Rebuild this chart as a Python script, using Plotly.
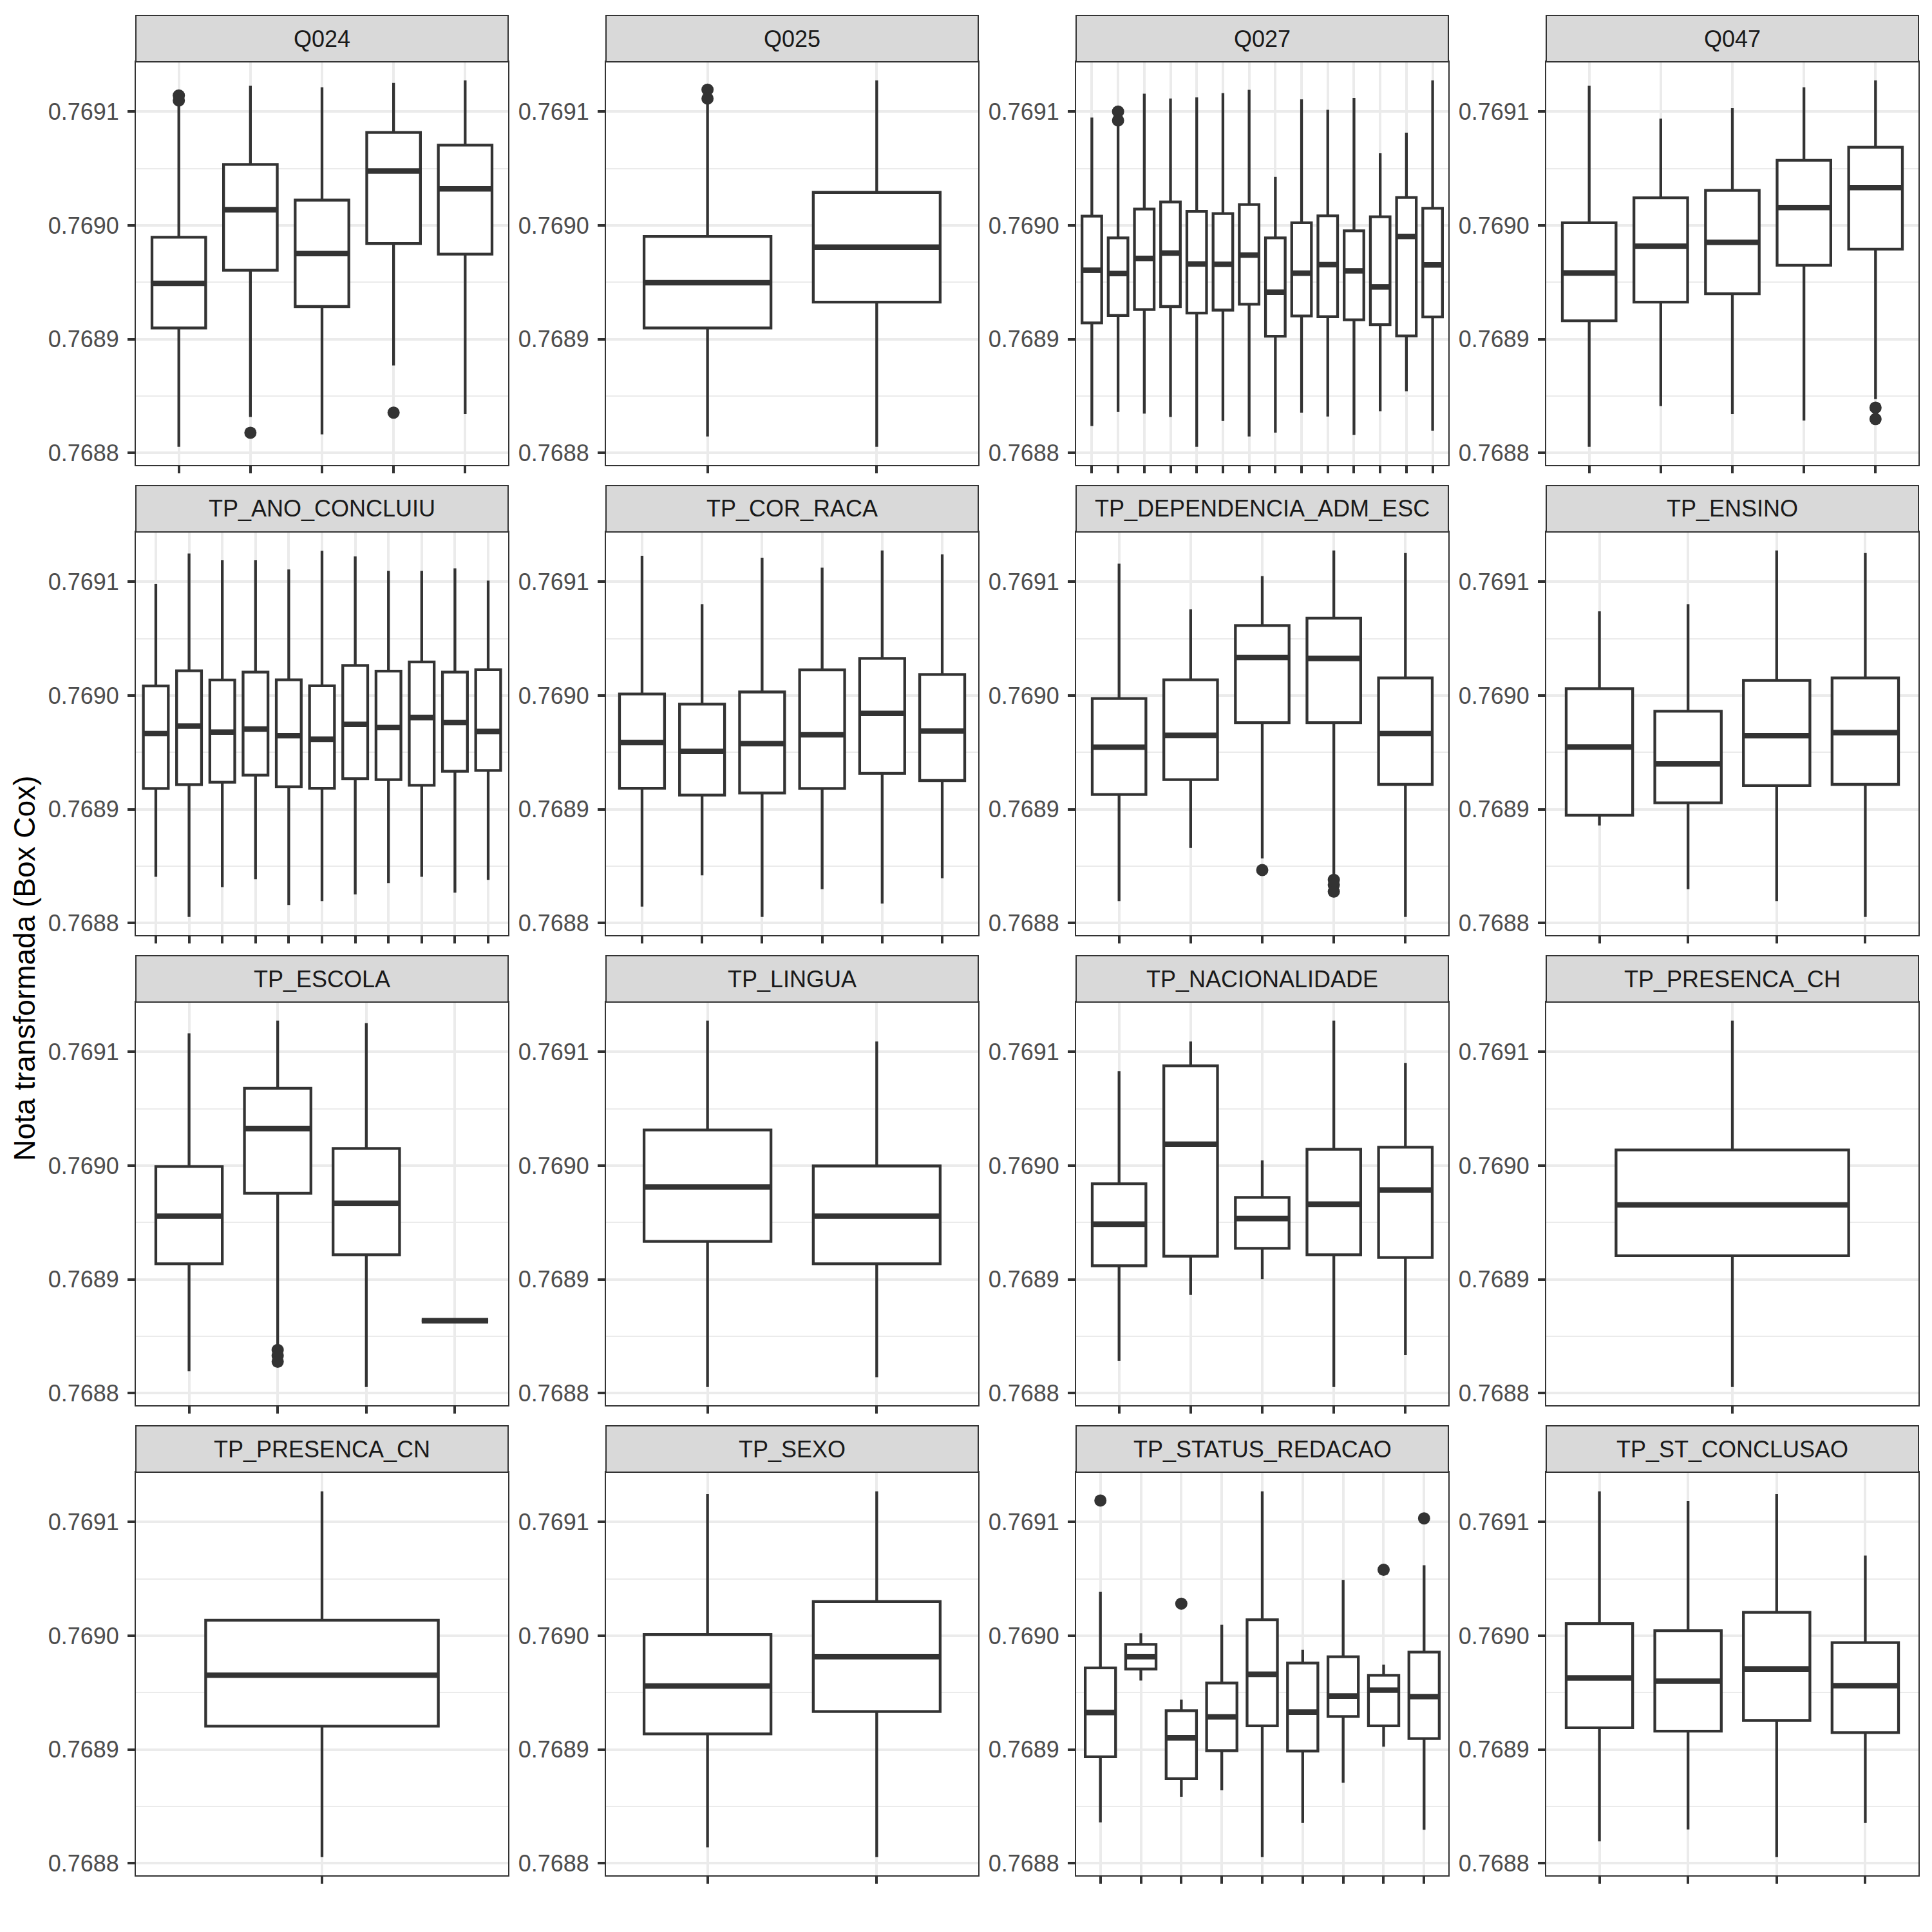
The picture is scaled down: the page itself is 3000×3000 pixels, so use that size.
import plotly.graph_objects as go

# ---------------- data (Box-Cox transformed scores) ----------------
Q024_LOW = [0.7688055, 0.7688316, 0.7688164, 0.7688770, 0.7688342]
Q024_Q1 = [0.7689099, 0.7689606, 0.7689287, 0.7689841, 0.7689747]
Q024_MED = [0.7689491, 0.7690138, 0.7689752, 0.7690478, 0.7690321]
Q024_Q3 = [0.7689896, 0.7690535, 0.7690222, 0.7690817, 0.7690705]
Q024_UP = [0.7691057, 0.7691227, 0.7691214, 0.7691251, 0.7691274]
Q024_OUT_X = [0, 0, 1, 3]
Q024_OUT_Y = [0.7691141, 0.7691097, 0.7688178, 0.7688355]

Q025_LOW = [0.7688146, 0.7688055]
Q025_Q1 = [0.7689099, 0.7689326]
Q025_MED = [0.7689496, 0.7689809]
Q025_Q3 = [0.7689903, 0.7690290]
Q025_UP = [0.7691063, 0.7691274]
Q025_OUT_X = [0, 0]
Q025_OUT_Y = [0.7691193, 0.7691115]

Q027_LOW = [0.7688238, 0.7688360, 0.7688347, 0.7688316, 0.7688055, 0.7688282, 0.7688146,
            0.7688180, 0.7688355, 0.7688321, 0.7688159, 0.7688368, 0.7688543, 0.7688196]
Q027_Q1 = [0.7689144, 0.7689209, 0.7689261, 0.7689287, 0.7689230, 0.7689256, 0.7689308,
           0.7689026, 0.7689204, 0.7689198, 0.7689170, 0.7689128, 0.7689029, 0.7689196]
Q027_MED = [0.7689606, 0.7689577, 0.7689710, 0.7689757, 0.7689661, 0.7689658, 0.7689739,
            0.7689413, 0.7689580, 0.7689655, 0.7689601, 0.7689460, 0.7689903, 0.7689653]
Q027_Q3 = [0.7690081, 0.7689890, 0.7690144, 0.7690206, 0.7690123, 0.7690104, 0.7690183,
           0.7689890, 0.7690023, 0.7690084, 0.7689953, 0.7690076, 0.7690245, 0.7690151]
Q027_UP = [0.7690948, 0.7690888, 0.7691157, 0.7691115, 0.7691125, 0.7691162, 0.7691191,
           0.7690426, 0.7691107, 0.7691016, 0.7691120, 0.7690634, 0.7690815, 0.7691274]
Q027_OUT_X = [1, 1]
Q027_OUT_Y = [0.7691000, 0.7690922]

Q047_LOW = [0.7688055, 0.7688413, 0.7688342, 0.7688285, 0.7688473]
Q047_Q1 = [0.7689162, 0.7689326, 0.7689399, 0.7689650, 0.7689791]
Q047_MED = [0.7689582, 0.7689817, 0.7689851, 0.7690157, 0.7690332]
Q047_Q3 = [0.7690023, 0.7690243, 0.7690308, 0.7690572, 0.7690687]
Q047_UP = [0.7691227, 0.7690937, 0.7691029, 0.7691214, 0.7691274]
Q047_OUT_X = [4, 4]
Q047_OUT_Y = [0.7688399, 0.7688298]

ANO_LOW = [0.7688407, 0.7688055, 0.7688316, 0.7688386, 0.7688159, 0.7688193, 0.7688253,
           0.7688352, 0.7688407, 0.7688269, 0.7688381]
ANO_Q1 = [0.7689183, 0.7689217, 0.7689238, 0.7689300, 0.7689198, 0.7689185, 0.7689269,
          0.7689261, 0.7689211, 0.7689334, 0.7689342]
ANO_MED = [0.7689666, 0.7689731, 0.7689679, 0.7689705, 0.7689648, 0.7689616, 0.7689747,
           0.7689718, 0.7689807, 0.7689762, 0.7689684]
ANO_Q3 = [0.7690084, 0.7690217, 0.7690136, 0.7690206, 0.7690138, 0.7690086, 0.7690264,
          0.7690214, 0.7690295, 0.7690206, 0.7690227]
ANO_UP = [0.7690979, 0.7691248, 0.7691188, 0.7691188, 0.7691107, 0.7691272, 0.7691222,
          0.7691094, 0.7691094, 0.7691117, 0.7691010]
ANO_OUT_X = []
ANO_OUT_Y = []

COR_LOW = [0.7688146, 0.7688420, 0.7688055, 0.7688298, 0.7688172, 0.7688394]
COR_Q1 = [0.7689185, 0.7689125, 0.7689144, 0.7689183, 0.7689316, 0.7689253]
COR_MED = [0.7689587, 0.7689509, 0.7689577, 0.7689655, 0.7689843, 0.7689687]
COR_Q3 = [0.7690013, 0.7689924, 0.7690031, 0.7690225, 0.7690326, 0.7690185]
COR_UP = [0.7691227, 0.7690802, 0.7691211, 0.7691123, 0.7691274, 0.7691240]
COR_OUT_X = []
COR_OUT_Y = []

DEP_LOW = [0.7688193, 0.7688661, 0.7688569, 0.7688420, 0.7688055]
DEP_Q1 = [0.7689131, 0.7689261, 0.7689762, 0.7689762, 0.7689219]
DEP_MED = [0.7689546, 0.7689650, 0.7690334, 0.7690326, 0.7689666]
DEP_Q3 = [0.7689974, 0.7690138, 0.7690614, 0.7690679, 0.7690154]
DEP_UP = [0.7691159, 0.7690757, 0.7691050, 0.7691274, 0.7691251]
DEP_OUT_X = [2, 3, 3, 3]
DEP_OUT_Y = [0.7688467, 0.7688381, 0.7688337, 0.7688277]

ENS_LOW = [0.7688859, 0.7688298, 0.7688193, 0.7688055]
ENS_Q1 = [0.7688948, 0.7689057, 0.7689209, 0.7689219]
ENS_MED = [0.7689548, 0.7689399, 0.7689648, 0.7689674]
ENS_Q3 = [0.7690060, 0.7689862, 0.7690133, 0.7690154]
ENS_UP = [0.7690739, 0.7690802, 0.7691274, 0.7691251]
ENS_OUT_X = []
ENS_OUT_Y = []

ESC_LOW = [0.7688193, 0.7688420, 0.7688055, 0.7688637]
ESC_Q1 = [0.7689138, 0.7689757, 0.7689217, 0.7688637]
ESC_MED = [0.7689556, 0.7690326, 0.7689668, 0.7688637]
ESC_Q3 = [0.7689992, 0.7690679, 0.7690151, 0.7688637]
ESC_UP = [0.7691162, 0.7691274, 0.7691251, 0.7688637]
ESC_OUT_X = [1, 1, 1]
ESC_OUT_Y = [0.7688381, 0.7688329, 0.7688277]

LIN_LOW = [0.7688055, 0.7688141]
LIN_Q1 = [0.7689334, 0.7689138]
LIN_MED = [0.7689812, 0.7689556]
LIN_Q3 = [0.7690313, 0.7689997]
LIN_UP = [0.7691274, 0.7691091]
LIN_OUT_X = []
LIN_OUT_Y = []

NAC_LOW = [0.7688285, 0.7688864, 0.7689003, 0.7688055, 0.7688337]
NAC_Q1 = [0.7689120, 0.7689204, 0.7689274, 0.7689217, 0.7689193]
NAC_MED = [0.7689486, 0.7690188, 0.7689535, 0.7689661, 0.7689786]
NAC_Q3 = [0.7689841, 0.7690877, 0.7689721, 0.7690144, 0.7690162]
NAC_UP = [0.7690830, 0.7691091, 0.7690047, 0.7691274, 0.7690901]
NAC_OUT_X = []
NAC_OUT_Y = []

PCH_LOW = [0.7688055]
PCH_Q1 = [0.7689209]
PCH_MED = [0.7689655]
PCH_Q3 = [0.7690138]
PCH_UP = [0.7691274]
PCH_OUT_X = []
PCH_OUT_Y = []

PCN_LOW = [0.7688055]
PCN_Q1 = [0.7689206]
PCN_MED = [0.7689653]
PCN_Q3 = [0.7690136]
PCN_UP = [0.7691269]
PCN_OUT_X = []
PCN_OUT_Y = []

SEX_LOW = [0.7688141, 0.7688055]
SEX_Q1 = [0.7689138, 0.7689334]
SEX_MED = [0.7689559, 0.7689817]
SEX_Q3 = [0.7690010, 0.7690300]
SEX_UP = [0.7691245, 0.7691269]
SEX_OUT_X = []
SEX_OUT_Y = []

RED_LOW = [0.7688360, 0.7689606, 0.7688585, 0.7688642, 0.7688055, 0.7688355, 0.7688708,
           0.7689026, 0.7688295]
RED_Q1 = [0.7688937, 0.7689708, 0.7688744, 0.7688990, 0.7689209, 0.7688987, 0.7689290,
          0.7689209, 0.7689097]
RED_MED = [0.7689326, 0.7689817, 0.7689104, 0.7689287, 0.7689661, 0.7689329, 0.7689470,
           0.7689522, 0.7689465]
RED_Q3 = [0.7689718, 0.7689924, 0.7689342, 0.7689585, 0.7690141, 0.7689760, 0.7689815,
          0.7689653, 0.7689856]
RED_UP = [0.7690386, 0.7690021, 0.7689439, 0.7690097, 0.7691269, 0.7689877, 0.7690491,
          0.7689747, 0.7690619]
RED_OUT_X = [0, 2, 7, 8]
RED_OUT_Y = [0.7691188, 0.7690282, 0.7690580, 0.7691031]

STC_LOW = [0.7688193, 0.7688298, 0.7688055, 0.7688355]
STC_Q1 = [0.7689191, 0.7689162, 0.7689256, 0.7689149]
STC_MED = [0.7689629, 0.7689601, 0.7689708, 0.7689561]
STC_Q3 = [0.7690107, 0.7690044, 0.7690206, 0.7689940]
STC_UP = [0.7691269, 0.7691183, 0.7691245, 0.7690705]
STC_OUT_X = []
STC_OUT_Y = []

Y_TICKS = [0.7688, 0.7689, 0.7690, 0.7691]
Y_MINOR = [0.76885, 0.76895, 0.76905]
Y_TITLE = "Nota transformada (Box Cox)"

PANELS = [
    ("Q024", Q024_LOW, Q024_Q1, Q024_MED, Q024_Q3, Q024_UP, Q024_OUT_X, Q024_OUT_Y),
    ("Q025", Q025_LOW, Q025_Q1, Q025_MED, Q025_Q3, Q025_UP, Q025_OUT_X, Q025_OUT_Y),
    ("Q027", Q027_LOW, Q027_Q1, Q027_MED, Q027_Q3, Q027_UP, Q027_OUT_X, Q027_OUT_Y),
    ("Q047", Q047_LOW, Q047_Q1, Q047_MED, Q047_Q3, Q047_UP, Q047_OUT_X, Q047_OUT_Y),
    ("TP_ANO_CONCLUIU", ANO_LOW, ANO_Q1, ANO_MED, ANO_Q3, ANO_UP, ANO_OUT_X, ANO_OUT_Y),
    ("TP_COR_RACA", COR_LOW, COR_Q1, COR_MED, COR_Q3, COR_UP, COR_OUT_X, COR_OUT_Y),
    ("TP_DEPENDENCIA_ADM_ESC", DEP_LOW, DEP_Q1, DEP_MED, DEP_Q3, DEP_UP, DEP_OUT_X, DEP_OUT_Y),
    ("TP_ENSINO", ENS_LOW, ENS_Q1, ENS_MED, ENS_Q3, ENS_UP, ENS_OUT_X, ENS_OUT_Y),
    ("TP_ESCOLA", ESC_LOW, ESC_Q1, ESC_MED, ESC_Q3, ESC_UP, ESC_OUT_X, ESC_OUT_Y),
    ("TP_LINGUA", LIN_LOW, LIN_Q1, LIN_MED, LIN_Q3, LIN_UP, LIN_OUT_X, LIN_OUT_Y),
    ("TP_NACIONALIDADE", NAC_LOW, NAC_Q1, NAC_MED, NAC_Q3, NAC_UP, NAC_OUT_X, NAC_OUT_Y),
    ("TP_PRESENCA_CH", PCH_LOW, PCH_Q1, PCH_MED, PCH_Q3, PCH_UP, PCH_OUT_X, PCH_OUT_Y),
    ("TP_PRESENCA_CN", PCN_LOW, PCN_Q1, PCN_MED, PCN_Q3, PCN_UP, PCN_OUT_X, PCN_OUT_Y),
    ("TP_SEXO", SEX_LOW, SEX_Q1, SEX_MED, SEX_Q3, SEX_UP, SEX_OUT_X, SEX_OUT_Y),
    ("TP_STATUS_REDACAO", RED_LOW, RED_Q1, RED_MED, RED_Q3, RED_UP, RED_OUT_X, RED_OUT_Y),
    ("TP_ST_CONCLUSAO", STC_LOW, STC_Q1, STC_MED, STC_Q3, STC_UP, STC_OUT_X, STC_OUT_Y),
]

# ---------------- style / layout ----------------
W = H = 3000
FONT = "Liberation Sans, Arial, Helvetica, sans-serif"
INK = "#333333"
GRID = "#EBEBEB"
STRIP_FILL = "#D9D9D9"
BOX_W = 0.75
Y_RANGE = [0.7687898, 0.7691437]

COL_LEFT = 211
COL_STEP = 730
PANEL_W = 578
ROW_TOP = 96
ROW_STEP = 730
PANEL_H = 625.5
STRIP_H = 72

fig = go.Figure()
layout = dict(
    width=W, height=H, autosize=False,
    margin=dict(l=0, r=0, t=0, b=0, pad=0, autoexpand=False),
    paper_bgcolor="white", plot_bgcolor="white",
    showlegend=False,
    font=dict(family=FONT, color=INK),
)
shapes = []
annotations = []

for i, (name, lo, q1, med, q3, up, ox, oy) in enumerate(PANELS):
    r, c = divmod(i, 4)
    k = i + 1
    xa = "x" if k == 1 else f"x{k}"
    ya = "y" if k == 1 else f"y{k}"
    n = len(med)
    pos = list(range(n))

    fig.add_trace(go.Box(
        x=pos, lowerfence=lo, q1=q1, median=med, q3=q3, upperfence=up,
        width=BOX_W, fillcolor="white", whiskerwidth=0,
        line=dict(color=INK, width=4.3),
        xaxis=xa, yaxis=ya, showlegend=False, hoverinfo="skip",
    ))
    # thick median bars (ggplot fatten = 2)
    mx, my = [], []
    for p, m in zip(pos, med):
        mx += [p - BOX_W / 2, p + BOX_W / 2, None]
        my += [m, m, None]
    fig.add_trace(go.Scatter(
        x=mx, y=my, mode="lines", line=dict(color=INK, width=8.6),
        xaxis=xa, yaxis=ya, showlegend=False, hoverinfo="skip",
    ))
    if ox:
        fig.add_trace(go.Scatter(
            x=ox, y=oy, mode="markers",
            marker=dict(color=INK, size=19, line=dict(width=0)),
            xaxis=xa, yaxis=ya, showlegend=False, hoverinfo="skip",
        ))

    left = COL_LEFT + c * COL_STEP
    right = left + PANEL_W
    top = ROW_TOP + r * ROW_STEP
    bottom = top + PANEL_H

    layout["xaxis" if k == 1 else f"xaxis{k}"] = dict(
        domain=[left / W, right / W], anchor=ya, type="linear", automargin=False,
        range=[-0.6, n - 1 + 0.6], tickvals=pos, showticklabels=False,
        ticks="outside", ticklen=11, tickwidth=4, tickcolor=INK,
        showgrid=True, gridcolor=GRID, gridwidth=4, zeroline=False,
        showline=True, mirror=True, linecolor=INK, linewidth=2,
    )
    layout["yaxis" if k == 1 else f"yaxis{k}"] = dict(
        domain=[1 - bottom / H, 1 - top / H], anchor=xa, type="linear", automargin=False,
        range=Y_RANGE, tickvals=Y_TICKS, ticktext=[f"{v:.4f}" for v in Y_TICKS],
        ticks="outside", ticklen=11, tickwidth=4, tickcolor=INK,
        tickfont=dict(family=FONT, size=36, color="#4D4D4D"),
        ticklabelstandoff=6,
        showgrid=True, gridcolor=GRID, gridwidth=4, zeroline=False,
        minor=dict(tickvals=Y_MINOR, showgrid=True, gridcolor=GRID, gridwidth=2, ticks=""),
        showline=True, mirror=True, linecolor=INK, linewidth=2,
    )

    shapes.append(dict(
        type="rect", xref="paper", yref="paper",
        x0=left / W, x1=right / W, y0=1 - top / H, y1=1 - (top - STRIP_H) / H,
        fillcolor=STRIP_FILL, line=dict(color=INK, width=2),
    ))
    annotations.append(dict(
        text=name, xref="paper", yref="paper",
        x=(left + right) / 2 / W, y=1 - (top - STRIP_H / 2) / H,
        xanchor="center", yanchor="middle", showarrow=False,
        font=dict(family=FONT, size=36, color="#1A1A1A"),
    ))

annotations.append(dict(
    text=Y_TITLE, xref="paper", yref="paper",
    x=38 / W, y=1 - (ROW_TOP + 3 * ROW_STEP + PANEL_H + ROW_TOP) / 2 / H,
    xanchor="center", yanchor="middle", textangle=-90, showarrow=False,
    font=dict(family=FONT, size=46, color="black"),
))

layout["shapes"] = shapes
layout["annotations"] = annotations
fig.update_layout(**layout)
fig.write_html("out.html")
